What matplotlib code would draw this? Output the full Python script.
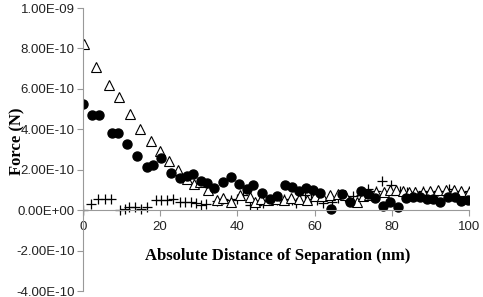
import matplotlib
matplotlib.use("Agg")
import matplotlib.pyplot as plt
from matplotlib.ticker import FuncFormatter

# filled circles (x in nm, force in 1e-10 N)
circ_x = [0, 2.4, 4.2, 7.4, 9.0, 11.3, 13.9, 16.5, 18.2, 20.1, 22.8, 25.1, 26.9, 28.4,
          30.6, 32.2, 34.0, 36.3, 38.3, 40.5, 42.4, 44.1, 46.3, 48.4, 50.2, 52.3, 54.1,
          56.0, 57.9, 59.7, 61.4, 64.2, 67.0, 69.2, 72.0, 73.9, 75.6, 77.6, 79.5, 81.7,
          83.7, 85.6, 87.3, 89.0, 90.6, 92.5, 94.6, 96.4, 97.9, 99.8]
circ_y = [5.27, 4.73, 4.73, 3.82, 3.82, 3.27, 2.67, 2.11, 2.22, 2.6, 1.86, 1.61, 1.71, 1.81,
          1.45, 1.32, 1.10, 1.40, 1.64, 1.27, 1.04, 1.23, 0.87, 0.55, 0.70, 1.23, 1.15,
          0.95, 1.12, 1.02, 0.85, 0.05, 0.82, 0.41, 0.94, 0.78, 0.58, 0.21, 0.38, 0.16,
          0.58, 0.66, 0.63, 0.53, 0.53, 0.38, 0.66, 0.66, 0.46, 0.49]

# open triangles
tri_x = [0.3, 3.5, 6.7, 9.3, 12.1, 14.9, 17.5, 19.9, 22.2, 24.7, 26.9, 28.8, 30.3, 32.5,
         34.6, 36.3, 38.3, 40.7, 43.3, 44.6, 46, 48, 50, 52, 54, 56, 58, 60, 62, 64, 66,
         68, 71.1, 72.5, 74, 76, 78, 79.5, 81.2, 83, 84.5, 86, 88, 90, 92, 94, 96, 98, 100]
tri_y = [8.2, 7.1, 6.2, 5.58, 4.74, 4.01, 3.42, 2.93, 2.45, 1.98, 1.56, 1.27, 1.40, 0.99,
         0.49, 0.58, 0.38, 0.74, 0.66, 0.41, 0.54, 0.50, 0.55, 0.48, 0.60, 0.55, 0.49,
         0.70, 0.68, 0.75, 0.80, 0.75, 0.41, 0.70, 0.75, 0.88, 0.90, 1.0, 0.99, 0.95, 0.90,
         0.92, 0.90, 0.95, 1.0, 0.98, 1.0, 0.97, 0.92]

# crosses
cross_x = [0, 2.1, 4.0, 5.7, 7.3, 9.6, 10.9, 12.0, 13.5, 15.0, 16.7, 18.9, 20.1, 21.7,
           23.2, 25.1, 26.4, 27.9, 29.3, 30.6, 31.9, 34.6, 36.3, 38.3, 39.8, 41.5, 43.3,
           45, 46.7, 48.4, 50.2, 52, 54.1, 55.3, 57.5, 59.2, 60.5, 62.3, 64.6, 66, 68, 70,
           72, 73.9, 75.9, 77.5, 79.9, 82, 84, 86, 88, 90, 92, 94.8, 96, 98, 100]
cross_y = [0, 0.3, 0.54, 0.54, 0.54, 0.03, 0.08, 0.15, 0.15, 0.08, 0.15, 0.48, 0.48, 0.48,
           0.54, 0.38, 0.38, 0.38, 0.33, 0.25, 0.3, 0.44, 0.56, 0.48, 0.56, 0.74, 0.25,
           0.25, 0.35, 0.49, 0.5, 0.55, 0.49, 0.33, 0.74, 0.54, 0.5, 0.36, 0.4, 0.6, 0.65, 0.7,
           0.75, 1.07, 0.94, 1.42, 1.26, 0.95, 0.9, 0.92, 0.95, 0.9, 0.95, 1.05, 0.95, 0.92, 0.95]

xticks = [0, 20, 40, 60, 80, 100]
yticks = [-4e-10, -2e-10, 0, 2e-10, 4e-10, 6e-10, 8e-10, 1e-9]

scale = 1e-10
fig = plt.figure(figsize=(4.83, 2.97), dpi=100)
ax = fig.add_axes([0.1718, 0.0202, 0.7992, 0.9528])

ax.plot(cross_x, [v * scale for v in cross_y], '+', color='black', markersize=7, mew=0.9)
ax.plot(tri_x, [v * scale for v in tri_y], '^', mfc='white', mec='black', markersize=7, mew=0.8)
ax.plot(circ_x, [v * scale for v in circ_y], 'o', color='black', markersize=6.5)

ax.set_xlim(0, 100)
ax.set_ylim(-4e-10, 1e-9)
ax.set_xticks(xticks)
ax.set_yticks(yticks)
ax.yaxis.set_major_formatter(FuncFormatter(lambda v, p: '%.2E' % v))

for s in ['top', 'right']:
    ax.spines[s].set_visible(False)
ax.spines['bottom'].set_position(('data', 0))
ax.spines['left'].set_color('#999999')
ax.spines['bottom'].set_color('#999999')
ax.tick_params(axis='both', colors='#999999', length=4, width=0.8,
               labelcolor='#222222', labelsize=9.5)
ax.tick_params(axis='y', pad=2)
ax.tick_params(axis='x', pad=4)
for lab in ax.get_xticklabels() + ax.get_yticklabels():
    lab.set_family('Liberation Sans')

ax.set_ylabel('Force (N)', fontfamily='Liberation Serif', fontweight='bold', fontsize=12)
ax.yaxis.set_label_coords(-0.15, 0.53)
ax.text(50.5, -2.25e-10, 'Absolute Distance of Separation (nm)', ha='center', va='center',
        fontfamily='Liberation Serif', fontweight='bold', fontsize=12)

fig.savefig('out.png', dpi=100)
